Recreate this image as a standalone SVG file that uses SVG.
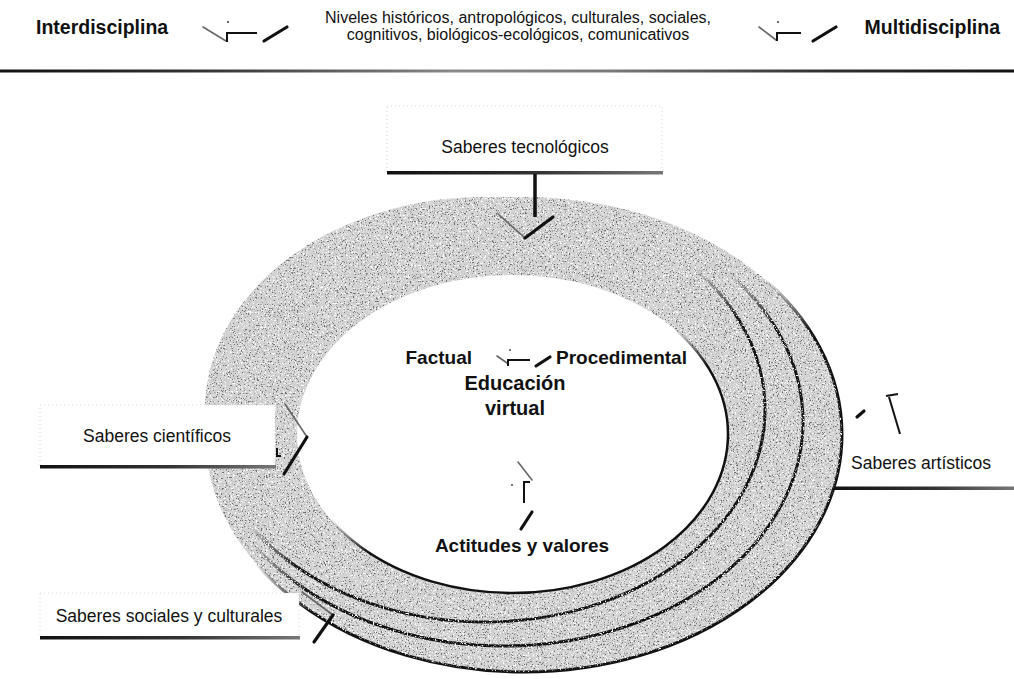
<svg xmlns="http://www.w3.org/2000/svg" width="1014" height="679" viewBox="0 0 1014 679">
  <defs>
    <style>
      text { font-family: "Liberation Sans", Arial, Helvetica, sans-serif; fill: #111; }
      .head { font-size: 19.5px; font-weight: bold; }
      .lvl { font-size: 16px; }
      .lbl { font-size: 17.5px; }
      .core { font-size: 19px; font-weight: bold; }
      .big { font-size: 20px; font-weight: bold; }
      .lit { stroke: #666; stroke-width: 1.6; fill: none; stroke-linecap: round; }
      .shade { stroke: #111; stroke-width: 2; fill: none; }
      .shade-b { stroke: #111; stroke-width: 3.2; fill: none; stroke-linecap: round; }
      .panel { fill: #fff; stroke: #d2d2d2; stroke-width: 1; stroke-dasharray: 1 3; }
      .ring { fill: #d2d2d2; stroke: url(#edge); stroke-width: 3; }
      .bar { fill: url(#barShade); }
    </style>
    <!-- dark rim on the lower right of every ring -->
    <linearGradient id="edge" x1="0.125" y1="0" x2="0.875" y2="1">
      <stop offset="0.47" stop-color="#111" stop-opacity="0"/>
      <stop offset="0.58" stop-color="#111" stop-opacity="1"/>
    </linearGradient>
    <linearGradient id="barShade" x1="0" y1="0" x2="1" y2="0">
      <stop offset="0" stop-color="#111"/>
      <stop offset="0.55" stop-color="#333"/>
      <stop offset="1" stop-color="#777"/>
    </linearGradient>
    <linearGradient id="ruleShade" x1="0" y1="0" x2="1" y2="0">
      <stop offset="0" stop-color="#111"/>
      <stop offset="0.2" stop-color="#333"/>
      <stop offset="0.45" stop-color="#8a8a8a"/>
      <stop offset="0.6" stop-color="#7a7a7a"/>
      <stop offset="0.8" stop-color="#333"/>
      <stop offset="1" stop-color="#111"/>
    </linearGradient>
    <!-- halftone grain: sparse dark dots and a few light specks -->
    <filter id="grain" filterUnits="userSpaceOnUse" x="0" y="0" width="1014" height="679">
      <feTurbulence type="fractalNoise" baseFrequency="0.75" numOctaves="2" seed="7" result="n"/>
      <feColorMatrix in="n" type="matrix" values="0 0 0 0 0.15  0 0 0 0 0.15  0 0 0 0 0.15  10 0 0 0 -6.1" result="dark"/>
      <feTurbulence type="fractalNoise" baseFrequency="0.6" numOctaves="2" seed="21" result="m"/>
      <feColorMatrix in="m" type="matrix" values="0 0 0 0 1  0 0 0 0 1  0 0 0 0 1  9 0 0 0 -5.2" result="light"/>
      <feMerge>
        <feMergeNode in="light"/>
        <feMergeNode in="dark"/>
      </feMerge>
    </filter>
    <mask id="bandMask" maskUnits="userSpaceOnUse" x="0" y="0" width="1014" height="679">
      <ellipse cx="523.5" cy="434.5" rx="318.5" ry="237.5" fill="#fff"/>
      <ellipse cx="504" cy="421.5" rx="299" ry="224.5" fill="#fff"/>
      <ellipse cx="485" cy="409.5" rx="280" ry="212.5" fill="#fff"/>
      <ellipse cx="512.5" cy="434" rx="215.5" ry="159" fill="#000"/>
    </mask>
  </defs>

  <rect width="1014" height="679" fill="#fff"/>

  <!-- header -->
  <g id="interdisciplina">
    <text class="head" x="36" y="34">Interdisciplina</text>
  </g>
  <g id="niveles">
    <text class="lvl" x="518" y="23" text-anchor="middle">Niveles históricos, antropológicos, culturales, sociales,</text>
    <text class="lvl" x="518" y="40" text-anchor="middle">cognitivos, biológicos-ecológicos, comunicativos</text>
  </g>
  <g id="multidisciplina">
    <text class="head" x="1000" y="34" text-anchor="end">Multidisciplina</text>
  </g>
  <rect x="0" y="69.5" width="1014" height="3" fill="url(#ruleShade)"/>

  <!-- concentric rings -->
  <g id="rings">
    <ellipse class="ring" cx="523.5" cy="434.5" rx="318.5" ry="237.5"/>
    <ellipse class="ring" cx="504" cy="421.5" rx="299" ry="224.5"/>
    <ellipse class="ring" cx="485" cy="409.5" rx="280" ry="212.5"/>
    <rect x="0" y="0" width="1014" height="679" filter="url(#grain)" mask="url(#bandMask)"/>
    <ellipse cx="512.5" cy="434" rx="215.5" ry="159" fill="#fff" stroke="url(#edge)" stroke-width="2.5"/>
  </g>

  <!-- knowledge panels -->
  <g id="saberes-tecnologicos">
    <rect class="panel" x="387" y="106" width="275" height="66"/>
    <rect class="bar" x="387" y="171" width="276" height="3.5"/>
    <text class="lbl" x="525" y="153" text-anchor="middle">Saberes tecnológicos</text>
  </g>
  <g id="saberes-cientificos">
    <rect class="panel" x="40" y="405" width="235" height="61"/>
    <rect class="bar" x="40" y="465" width="236" height="3.5"/>
    <text class="lbl" x="157" y="442" text-anchor="middle">Saberes científicos</text>
  </g>
  <g id="saberes-sociales">
    <rect class="panel" x="40" y="593" width="259" height="44"/>
    <rect class="bar" x="40" y="636" width="260" height="3.5"/>
    <text class="lbl" x="169" y="622" text-anchor="middle">Saberes sociales y culturales</text>
  </g>
  <g id="saberes-artisticos">
    <rect x="846" y="396" width="168" height="90" fill="#fff"/>
    <rect class="bar" x="834" y="486.5" width="180" height="3.5"/>
    <text class="lbl" x="851" y="469">Saberes artísticos</text>
  </g>

  <!-- centre -->
  <g id="factual">
    <text class="core" x="472" y="364" text-anchor="end">Factual</text>
  </g>
  <g id="procedimental">
    <text class="core" x="556" y="364">Procedimental</text>
  </g>
  <g id="educacion-virtual">
    <text class="big" x="515" y="390" text-anchor="middle">Educación</text>
    <text class="big" x="515" y="415" text-anchor="middle">virtual</text>
  </g>
  <g id="actitudes">
    <text class="core" x="522" y="552" text-anchor="middle">Actitudes y valores</text>
  </g>

  <!-- connectors: embossed arrows, only the shaded edges show -->
  <g id="connectors">
    <!-- Interdisciplina <-> Niveles -->
    <path class="lit" d="M203,27 L226,41"/>
    <path class="shade" d="M227,42 L227,33 L257,33"/>
    <path class="shade-b" d="M264,41 L287,27"/>
    <circle cx="228" cy="22" r="1" fill="#333"/>
    <!-- Niveles <-> Multidisciplina -->
    <path class="lit" d="M759,27 L776,40"/>
    <path class="shade" d="M777,41 L777,33 L801,33"/>
    <path class="shade-b" d="M813,41 L836,27"/>
    <circle cx="778" cy="22" r="1" fill="#333"/>
    <!-- Factual <-> Procedimental -->
    <path class="lit" d="M497,356 L507,363"/>
    <path class="shade" d="M508,366 L508,360 L530,360"/>
    <path class="shade-b" d="M536,366 L550,357"/>
    <circle cx="510" cy="350" r="0.9" fill="#333"/>
    <!-- Educación virtual <-> Actitudes y valores -->
    <path class="lit" d="M518,462 L532,480"/>
    <path class="shade" d="M530,482 L524,482 L524,503"/>
    <path class="shade-b" d="M532,512 L521,529"/>
    <circle cx="512" cy="485" r="0.9" fill="#333"/>
    <!-- Saberes tecnológicos -> rings -->
    <path d="M535,174 L535,217" stroke="#111" stroke-width="3.5"/>
    <path class="lit" d="M498,214 L525,238" stroke-width="2"/>
    <path class="shade-b" d="M525,238 L553,217" stroke-width="4"/>
    <!-- Saberes científicos -> rings -->
    <path class="lit" d="M285,404 L307,437" stroke-width="2"/>
    <path class="shade-b" d="M307,437 L284,474" stroke-width="4"/>
    <path class="shade" d="M277,448 L277,456 L281,456"/>
    <!-- Saberes sociales y culturales -> rings -->
    <path class="lit" d="M302,592 L333,615" stroke-width="2"/>
    <path class="shade-b" d="M333,615 L314,642" stroke-width="4"/>
    <!-- Saberes artísticos -> rings -->
    <path class="shade-b" d="M857,417 L864,411" stroke-width="2.5"/>
    <path class="shade" d="M886,396 L898,394"/>
    <path class="shade" d="M889,397 L900,434" stroke-width="1.5"/>
  </g>
</svg>
